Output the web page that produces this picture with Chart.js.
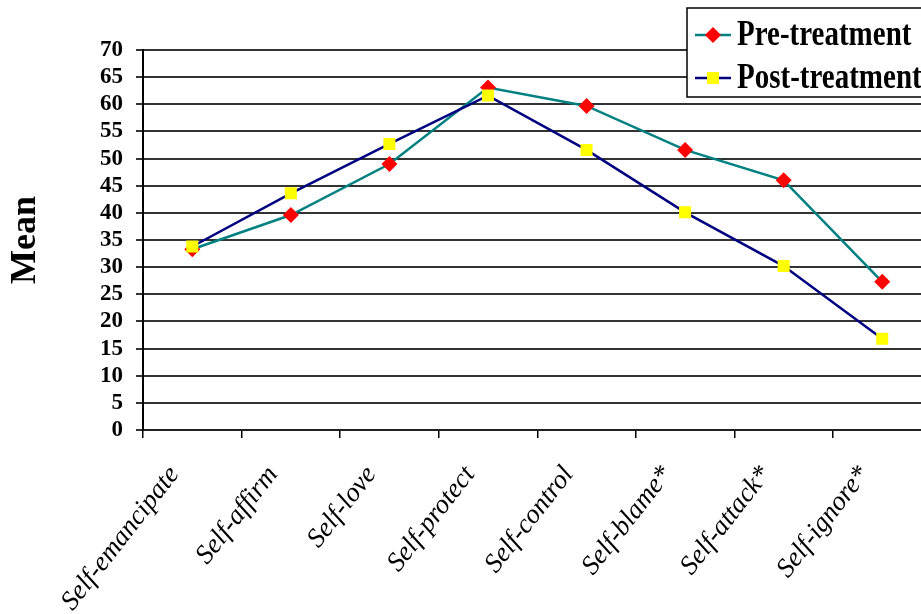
<!DOCTYPE html>
<html>
<head>
<meta charset="utf-8">
<script src="https://cdn.jsdelivr.net/npm/chart.js@4/dist/chart.umd.min.js"></script>
<style>
  html, body { margin: 0; padding: 0; background: #fff; overflow: hidden; }
  #wrap { width: 940px; height: 614px; position: relative; }
</style>
</head>
<body>
<div id="wrap"><canvas id="c"></canvas></div>
<script>
// Coping-style scores before and after treatment
const categories = ['Self-emancipate', 'Self-affirm', 'Self-love', 'Self-protect',
                    'Self-control', 'Self-blame*', 'Self-attack*', 'Self-ignore*'];
const preTreatment  = [33.3, 39.6, 49.0, 63.1, 59.7, 51.6, 46.0, 27.3];
const postTreatment = [33.8, 43.6, 52.7, 61.6, 51.6, 40.1, 30.2, 16.8];
const yMin = 0, yMax = 70, yStep = 5;
const seriesNames = ['Pre-treatment', 'Post-treatment'];

const SERIF = '"Liberation Serif", "Times New Roman", serif';
const PRE_LINE = '#008080', PRE_MARK = '#ff0000';
const POST_LINE = '#000080', POST_MARK = '#ffff00';

// Boxed legend with line + marker samples, drawn over the plot
const boxLegend = {
  id: 'boxLegend',
  afterDraw(chart) {
    const ctx = chart.ctx;
    ctx.save();
    const x0 = 687, y0 = 8, x1 = 938, y1 = 97;
    ctx.fillStyle = '#fff';
    ctx.fillRect(x0, y0, x1 - x0, y1 - y0);
    ctx.strokeStyle = '#000';
    ctx.lineWidth = 1.5;
    ctx.strokeRect(x0, y0, x1 - x0, y1 - y0);
    const rows = [
      { name: seriesNames[0], y: 35, line: PRE_LINE, mark: PRE_MARK, shape: 'diamond' },
      { name: seriesNames[1], y: 78, line: POST_LINE, mark: POST_MARK, shape: 'square' }
    ];
    rows.forEach(r => {
      ctx.strokeStyle = r.line;
      ctx.lineWidth = 2.5;
      ctx.beginPath();
      ctx.moveTo(695, r.y);
      ctx.lineTo(731, r.y);
      ctx.stroke();
      ctx.fillStyle = r.mark;
      ctx.beginPath();
      if (r.shape === 'diamond') {
        ctx.moveTo(713, r.y - 8); ctx.lineTo(721, r.y); ctx.lineTo(713, r.y + 8); ctx.lineTo(705, r.y);
        ctx.closePath();
      } else {
        ctx.rect(707, r.y - 6, 12, 12);
      }
      ctx.fill();
      ctx.save();
      ctx.translate(737, r.y);
      ctx.scale(1, 1.2);
      ctx.fillStyle = '#000';
      ctx.font = 'bold 29px ' + SERIF;
      ctx.textAlign = 'left';
      ctx.textBaseline = 'middle';
      ctx.fillText(r.name, 0, 1);
      ctx.restore();
    });
    ctx.restore();
  }
};

new Chart(document.getElementById('c'), {
  type: 'line',
  data: {
    labels: categories,
    datasets: [
      {
        label: seriesNames[0],
        data: preTreatment,
        borderColor: PRE_LINE,
        borderWidth: 2.5,
        backgroundColor: PRE_MARK,
        pointStyle: 'rectRot',
        pointRadius: 8,
        pointBorderWidth: 0,
        pointBorderColor: PRE_MARK,
        pointBackgroundColor: PRE_MARK,
        tension: 0,
        order: 1
      },
      {
        label: seriesNames[1],
        data: postTreatment,
        borderColor: POST_LINE,
        borderWidth: 2.5,
        backgroundColor: POST_MARK,
        pointStyle: 'rect',
        pointRadius: 8.5,
        pointBorderWidth: 0,
        pointBorderColor: POST_MARK,
        pointBackgroundColor: POST_MARK,
        tension: 0,
        order: 0
      }
    ]
  },
  options: {
    responsive: true,
    maintainAspectRatio: false,
    animation: false,
    layout: { padding: { left: 0, top: 50, right: 7, bottom: 0 } },
    plugins: { legend: { display: false }, tooltip: { enabled: false } },
    scales: {
      x: {
        type: 'category',
        offset: true,
        grid: { offset: true, drawOnChartArea: false, drawTicks: true, tickLength: 8, color: '#000', lineWidth: 1.5 },
        border: { display: true, color: '#222', width: 2 },
        ticks: {
          minRotation: 52, maxRotation: 52, autoSkip: false,
          padding: 22, labelOffset: -18,
          color: '#000',
          font: { family: SERIF, size: 27, style: 'italic' }
        },
        afterFit(scale) { scale.height = 184; }
      },
      y: {
        min: yMin, max: yMax,
        grid: { color: '#333', lineWidth: 2, drawTicks: true, tickLength: 7 },
        border: { display: true, color: '#000', width: 2 },
        ticks: {
          stepSize: yStep, padding: 13, color: '#000', autoSkip: false,
          font: { family: SERIF, size: 23, weight: 'bold' }
        },
        title: {
          display: true, text: 'Mean', color: '#000',
          font: { family: SERIF, size: 36, weight: 'bold' }
        },
        afterFit(scale) { scale.width = 143; }
      }
    }
  },
  plugins: [boxLegend]
});
</script>
</body>
</html>
